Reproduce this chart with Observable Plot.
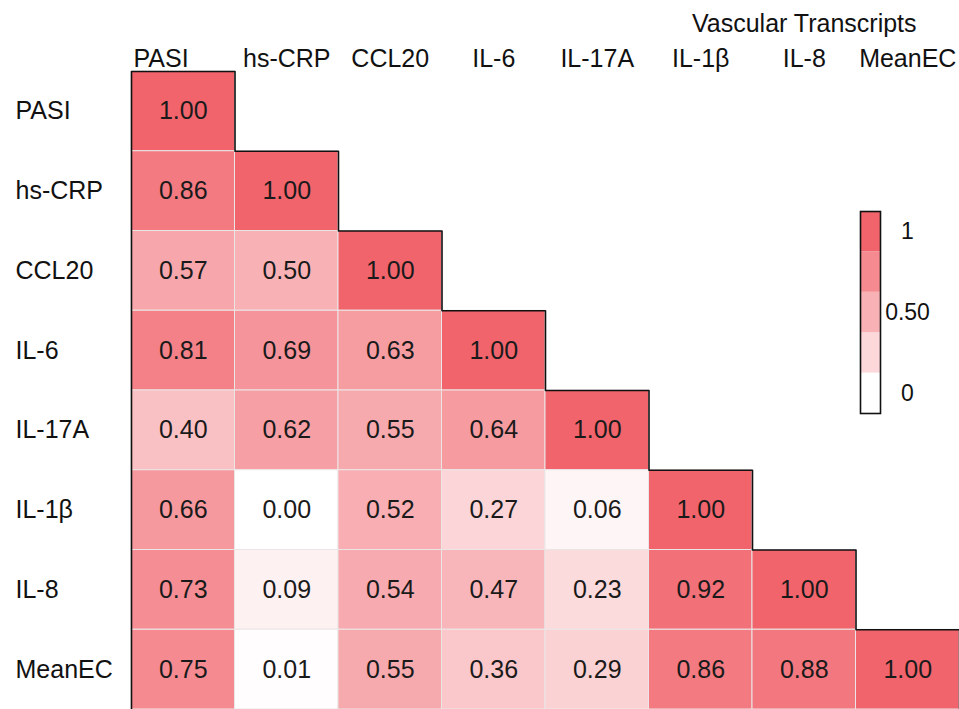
<!DOCTYPE html>
<html>
<head>
<meta charset="utf-8">
<script src="https://cdn.jsdelivr.net/npm/d3@7"></script>
<script src="https://cdn.jsdelivr.net/npm/@observablehq/plot@0.6"></script>
<style>
  html, body { margin: 0; padding: 0; background: #fff; }
  #wrap { position: relative; width: 959px; height: 709px; font-family: "Liberation Sans", Arial, sans-serif; }
  #legend { position: absolute; left: 855px; top: 200px; }
</style>
</head>
<body>
<div id="wrap"><div id="legend"></div></div>
<script>
// ---- data ----
const labels = ["PASI", "hs-CRP", "CCL20", "IL-6", "IL-17A", "IL-1β", "IL-8", "MeanEC"];
const rowValues = [
  [1.00],
  [0.86, 1.00],
  [0.57, 0.50, 1.00],
  [0.81, 0.69, 0.63, 1.00],
  [0.40, 0.62, 0.55, 0.64, 1.00],
  [0.66, 0.00, 0.52, 0.27, 0.06, 1.00],
  [0.73, 0.09, 0.54, 0.47, 0.23, 0.92, 1.00],
  [0.75, 0.01, 0.55, 0.36, 0.29, 0.86, 0.88, 1.00]
];
const groupLabel = "Vascular Transcripts";
const groupStart = "IL-1β";
const groupEnd = "MeanEC";
const legendBreaks = [0, 0.2, 0.4, 0.6, 0.8, 1];
const legendColorValues = [0, 0.25, 0.5, 0.75, 1];
const legendTickValues = [0.9, 0.5, 0.1];
const legendTickLabels = ["1", "0.50", "0"];

// ---- derived tables ----
const cells = [];
rowValues.forEach((vals, r) => vals.forEach((v, c) => cells.push({row: r, col: c, value: v})));
const stair = [{x: 0, y: labels.length}, {x: 0, y: 0}];
labels.forEach((_, i) => { stair.push({x: i + 1, y: i}); stair.push({x: i + 1, y: i + 1}); });
const g0 = labels.indexOf(groupStart), g1 = labels.indexOf(groupEnd) + 1;

const colorScale = {type: "linear", domain: [0, 1], range: ["#ffffff", "#f1646c"]};
const font = "Liberation Sans, Arial, sans-serif";
const fs = 25;

const chart = Plot.plot({
  width: 959,
  height: 709,
  marginLeft: 131,
  marginTop: 71,
  marginRight: 0,
  marginBottom: 0,
  style: {fontFamily: font, background: "transparent"},
  x: {domain: [0, labels.length], axis: null},
  y: {domain: [0, labels.length], reverse: true, axis: null},
  color: colorScale,
  marks: [
    Plot.rect(cells, {
      x1: d => d.col, x2: d => d.col + 1,
      y1: d => d.row, y2: d => d.row + 1,
      fill: "value", stroke: "#ebe6e6", strokeWidth: 1
    }),
    Plot.text(cells, {
      x: d => d.col + 0.5, y: d => d.row + 0.5,
      text: d => d3.format(".2f")(d.value),
      fill: "#1a1a1a", fontSize: fs
    }),
    Plot.line(stair, {x: "x", y: "y", stroke: "#111", strokeWidth: 1.6, curve: "linear"}),
    // first column header sits at the left edge of its column
    Plot.text(labels.slice(0, 1), {
      x: () => 0, frameAnchor: "top", lineAnchor: "bottom", textAnchor: "start", dx: 2, dy: -5,
      text: d => d, fill: "#111", fontSize: fs
    }),
    Plot.text(labels.slice(1), {
      x: (d, i) => i + 1.5, frameAnchor: "top", lineAnchor: "bottom", dy: -5,
      text: d => d, fill: "#111", fontSize: fs
    }),
    Plot.text(labels, {
      y: (d, i) => i + 0.5, frameAnchor: "left", textAnchor: "start", dx: -116,
      text: d => d, fill: "#111", fontSize: fs
    }),
    Plot.text([groupLabel], {
      x: () => (g0 + g1) / 2, frameAnchor: "top", lineAnchor: "bottom", dy: -40,
      text: d => d, fill: "#111", fontSize: fs
    })
  ]
});
document.getElementById("wrap").prepend(chart);

const legend = Plot.plot({
  width: 104,
  height: 230,
  marginLeft: 5,
  marginRight: 79,
  marginTop: 11,
  marginBottom: 17,
  style: {fontFamily: font, background: "transparent", overflow: "visible"},
  x: {domain: [0, 1], axis: null},
  y: {domain: [0, 1], axis: null},
  color: colorScale,
  marks: [
    Plot.rect(legendBreaks.slice(0, -1), {
      x1: 0, x2: 1, y1: d => d, y2: (d, i) => legendBreaks[i + 1],
      fill: (d, i) => legendColorValues[i]
    }),
    Plot.frame({stroke: "#111", strokeWidth: 1.6}),
    Plot.text(legendTickValues, {
      x: () => 1, y: d => d, dx: 27,
      text: (d, i) => legendTickLabels[i], fill: "#111", fontSize: 23
    })
  ]
});
document.getElementById("legend").append(legend);
</script>
</body>
</html>
